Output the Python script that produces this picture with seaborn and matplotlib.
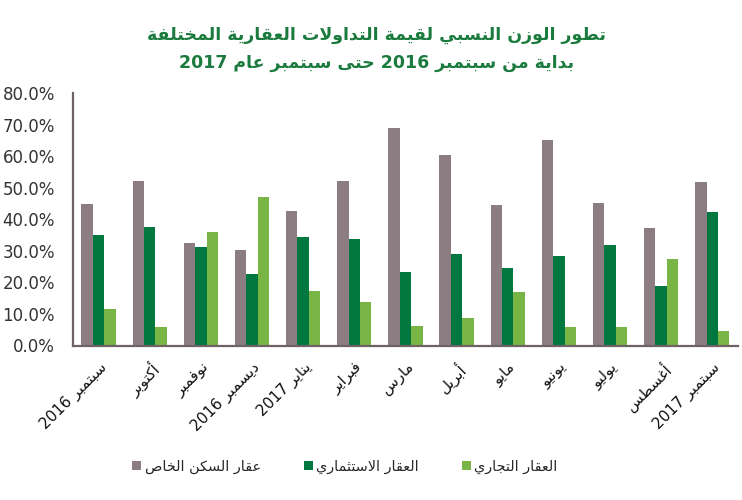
import re
import matplotlib
matplotlib.use('Agg')
import matplotlib.pyplot as plt
import pandas as pd
import seaborn as sns

# Data (percent)
months = ['سبتمبر 2016', 'أكتوبر', 'نوفمبر', 'ديسمبر 2016', 'يناير 2017', 'فبراير',
          'مارس', 'أبريل', 'مايو', 'يونيو', 'يوليو', 'أغسطس', 'سبتمبر 2017']
series = ['عقار السكن الخاص', 'العقار الاستثماري', 'العقار التجاري']
private_res = [44.8, 52.2, 32.4, 30.4, 42.6, 52.2, 68.8, 60.4, 44.5, 65.1, 45.2, 37.1, 51.8]
investment = [35.1, 37.5, 31.2, 22.7, 34.3, 33.9, 23.4, 29.0, 24.6, 28.5, 32.0, 18.8, 42.2]
commercial = [11.5, 6.0, 35.9, 47.1, 17.3, 13.7, 6.3, 8.7, 16.9, 6.0, 6.0, 27.4, 4.5]
title_lines = ['تطور الوزن النسبي لقيمة التداولات العقارية المختلفة',
               'بداية من سبتمبر 2016 حتى سبتمبر عام 2017']
yticks = [0, 10, 20, 30, 40, 50, 60, 70, 80]

colors = ['#8c7d82', '#00783f', '#79b545']

# matplotlib does no Arabic shaping / RTL, so do a small one here
DUAL = {'ئ': 0xFE89, 'ب': 0xFE8F, 'ت': 0xFE95, 'ث': 0xFE99, 'ج': 0xFE9D, 'ح': 0xFEA1,
        'خ': 0xFEA5, 'س': 0xFEB1, 'ش': 0xFEB5, 'ص': 0xFEB9, 'ض': 0xFEBD, 'ط': 0xFEC1,
        'ظ': 0xFEC5, 'ع': 0xFEC9, 'غ': 0xFECD, 'ف': 0xFED1, 'ق': 0xFED5, 'ك': 0xFED9,
        'ل': 0xFEDD, 'م': 0xFEE1, 'ن': 0xFEE5, 'ه': 0xFEE9, 'ي': 0xFEF1}
RIGHT = {'آ': 0xFE81, 'أ': 0xFE83, 'ؤ': 0xFE85, 'إ': 0xFE87, 'ا': 0xFE8D, 'ة': 0xFE93,
         'د': 0xFEA9, 'ذ': 0xFEAB, 'ر': 0xFEAD, 'ز': 0xFEAF, 'و': 0xFEED, 'ى': 0xFEEF}
LAM_ALEF = {'آ': 0xFEF5, 'أ': 0xFEF7, 'إ': 0xFEF9, 'ا': 0xFEFB}


def shape(text):
    out = []
    i = 0
    n = len(text)
    while i < n:
        c = text[i]
        prev = text[i - 1] if i > 0 else ''
        if c == 'ل' and i + 1 < n and text[i + 1] in LAM_ALEF:
            out.append(chr(LAM_ALEF[text[i + 1]] + (1 if prev in DUAL else 0)))
            i += 2
            continue
        nxt = text[i + 1] if i + 1 < n else ''
        if c in DUAL:
            a = prev in DUAL
            b = nxt in DUAL or nxt in RIGHT
            form = 3 if (a and b) else 1 if a else 2 if b else 0
            out.append(chr(DUAL[c] + form))
        elif c in RIGHT:
            out.append(chr(RIGHT[c] + (1 if prev in DUAL else 0)))
        else:
            out.append(c)
        i += 1
    vis = ''.join(reversed(out))
    return re.sub(r'[0-9]+', lambda m: m.group(0)[::-1], vis)


df = pd.DataFrame({
    'month': months * 3,
    'series': [series[0]] * 13 + [series[1]] * 13 + [series[2]] * 13,
    'value': private_res + investment + commercial,
})

sns.set_style('white')
plt.rcParams['font.family'] = ['DejaVu Sans']

fig = plt.figure(figsize=(7.42, 5), dpi=100)
ax = fig.add_axes([0.0984, 0.309, 0.896, 0.505])

sns.barplot(data=df, x='month', y='value', hue='series', order=months,
            hue_order=series, palette=colors, width=0.67, saturation=1,
            linewidth=0, ax=ax, legend=True)

ax.set_ylim(0, 80)
ax.set_xlim(-0.5, 12.5)
ax.set_yticks(yticks)
ax.set_yticklabels([f'{v:.1f}%' for v in yticks], fontsize=12, color='#333333')
ax.set_xticks(range(len(months)))
ax.set_xticklabels([shape(m) for m in months], rotation=45, ha='right',
                   rotation_mode='anchor', fontsize=11, color='#111111')
ax.tick_params(axis='both', length=0)
ax.tick_params(axis='x', pad=10)
ax.tick_params(axis='y', pad=13)
ax.set_xlabel('')
ax.set_ylabel('')

sns.despine(ax=ax)
for side in ['left', 'bottom']:
    ax.spines[side].set_color('#6e6266')
    ax.spines[side].set_linewidth(1.6)

handles, labels = ax.get_legend_handles_labels()
ax.get_legend().remove()
fig.legend(handles, [shape(l) for l in labels], loc='center',
           bbox_to_anchor=(345 / 742, 1 - 467 / 500), ncol=3, frameon=False,
           fontsize=10.4, handlelength=0.6, handleheight=0.6,
           handletextpad=0.25, columnspacing=3.0)

fig.text(0.508, 1 - 35 / 500, shape(title_lines[0]), ha='center', va='center',
         fontsize=12.5, fontweight='bold', color='#1b7a3d')
fig.text(0.508, 1 - 63 / 500, shape(title_lines[1]), ha='center', va='center',
         fontsize=12.5, fontweight='bold', color='#1b7a3d')

fig.savefig('out.png', dpi=100)
